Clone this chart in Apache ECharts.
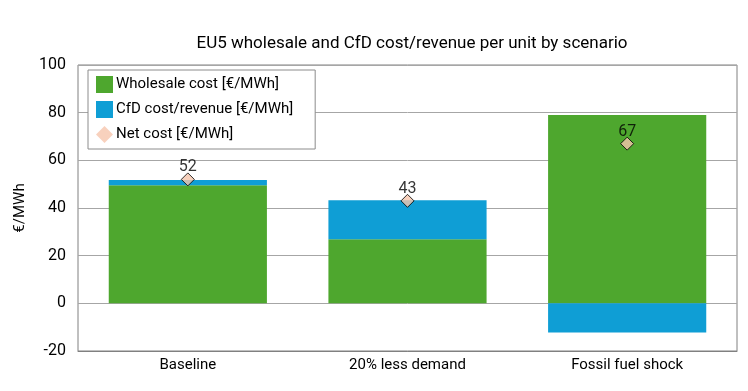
<!DOCTYPE html>
<html><head><meta charset="utf-8">
<script src="https://cdn.jsdelivr.net/npm/echarts@6/dist/echarts.min.js"></script>
<style>html,body{margin:0;padding:0;background:#fff}#c{width:748px;height:391px}</style>
</head><body><div id="c"></div>
<script>
var categories = ['Baseline', '20% less demand', 'Fossil fuel shock'];
var wholesale = [49.5, 26.9, 79.0];
var cfd = [2.2, 16.4, -12.2];
var net = [52, 43, 67];
var yTicks = { min: -20, max: 100, interval: 20 };
var seriesNames = ['Wholesale cost [€/MWh]', 'CfD cost/revenue [€/MWh]', 'Net cost [€/MWh]'];

var FONT = 'Roboto, "Liberation Sans", sans-serif';
var chart = echarts.init(document.getElementById('c'), null, {renderer: 'canvas'});
chart.setOption({
  animation: false,
  textStyle: { fontFamily: FONT },
  title: {
    text: 'EU5 wholesale and CfD cost/revenue per unit by scenario',
    left: 407, top: 30, textAlign: 'center',
    textStyle: { fontSize: 17, fontWeight: 'normal', color: '#000', fontFamily: FONT }
  },
  legend: {
    orient: 'vertical', left: 88, top: 70,
    padding: [6, 22, 6, 8],
    itemWidth: 17, itemHeight: 17, itemGap: 8,
    borderColor: '#8c8c8c', borderWidth: 1, backgroundColor: '#fff',
    textStyle: { fontSize: 15, color: '#000', fontFamily: FONT, padding: [0, 0, 0, -2] },
    data: [
      { name: seriesNames[0], icon: 'rect' },
      { name: seriesNames[1], icon: 'rect' },
      { name: seriesNames[2], icon: 'diamond', itemStyle: { borderWidth: 0 } }
    ]
  },
  grid: { left: 78, right: 11, top: 65, bottom: 40, show: true, borderColor: '#808080', borderWidth: 1, containLabel: false },
  xAxis: {
    type: 'category', data: categories,
    axisLine: { show: true, onZero: false, lineStyle: { color: '#808080' } },
    axisTick: { show: false },
    axisLabel: { fontSize: 15, color: '#000', margin: 7, fontFamily: FONT }
  },
  yAxis: {
    type: 'value', min: yTicks.min, max: yTicks.max, interval: yTicks.interval,
    name: '€/MWh', nameLocation: 'middle', nameGap: 48, nameRotate: 90,
    nameTextStyle: { fontSize: 15, color: '#000', fontFamily: FONT },
    axisLine: { show: false },
    axisTick: { show: false },
    axisLabel: { fontSize: 16, color: '#000', margin: 12, fontFamily: FONT },
    splitLine: { show: true, lineStyle: { color: '#a6a6a6', width: 1 } }
  },
  series: [
    { name: seriesNames[0], type: 'bar', stack: 'total', data: wholesale, barWidth: '72%',
      itemStyle: { color: '#4ea72e' } },
    { name: seriesNames[1], type: 'bar', stack: 'total', data: cfd, barWidth: '72%',
      itemStyle: { color: '#0f9ed5' } },
    { name: seriesNames[2], type: 'scatter', data: net, symbol: 'diamond', symbolSize: 13,
      itemStyle: { color: '#f6c6ad', borderColor: '#000', borderWidth: 1 },
      label: { show: true, position: 'top', distance: -3, fontSize: 16, color: '#000', fontFamily: FONT },
      z: 5 }
  ]
});
</script></body></html>
